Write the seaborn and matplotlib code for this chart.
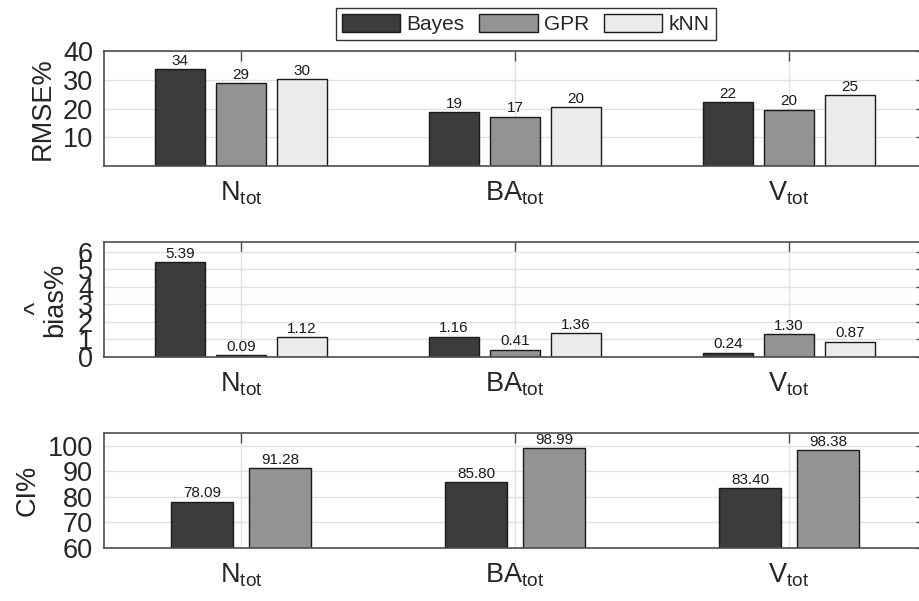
import matplotlib
matplotlib.use("Agg")
import matplotlib.pyplot as plt
import numpy as np
import pandas as pd
import seaborn as sns

sns.set_theme(style="white")
plt.rcParams["font.family"] = ["Liberation Sans", "DejaVu Sans"]
plt.rcParams["mathtext.default"] = "regular"

targets = ["N$_{tot}$", "BA$_{tot}$", "V$_{tot}$"]
methods = ["Bayes", "GPR", "kNN"]
colors = ["#3c3c3c", "#939393", "#ebebeb"]

rmse_bayes = [33.6, 18.8, 22.1]
rmse_gpr = [28.8, 17.1, 19.6]
rmse_knn = [30.3, 20.4, 24.6]

bias_bayes = [5.39, 1.16, 0.24]
bias_gpr = [0.09, 0.41, 1.30]
bias_knn = [1.12, 1.36, 0.87]

ci_bayes = [78.09, 85.80, 83.40]
ci_gpr = [91.28, 98.99, 98.38]


def long_df(series):
    rows = []
    for m, vals in series.items():
        for t, v in zip(targets, vals):
            rows.append({"target": t, "method": m, "value": v})
    return pd.DataFrame(rows)


rmse = long_df({"Bayes": rmse_bayes, "GPR": rmse_gpr, "kNN": rmse_knn})
bias = long_df({"Bayes": bias_bayes, "GPR": bias_gpr, "kNN": bias_knn})
ci = long_df({"Bayes": ci_bayes, "GPR": ci_gpr})

fig = plt.figure(figsize=(9.19, 6.01), dpi=100)
left, width, height = 0.1132, 0.8945, 0.1913
ax1 = fig.add_axes([left, 0.7238, width, height])
ax2 = fig.add_axes([left, 0.406, width, height])
ax3 = fig.add_axes([left, 0.0882, width, height])

spine = "#4d4d4d"
big = 19.5

panels = [
    (ax1, rmse, methods, colors, 0.667, 0.19, (0, 40), [10, 20, 30, 40], "RMSE%", "%.0f"),
    (ax2, bias, methods, colors, 0.667, 0.19, (0, 6.54), [0, 1, 2, 3, 4, 5, 6], "bias%", "%.2f"),
    (ax3, ci, methods[:2], colors[:2], 0.57, 0.21, (60, 105), [60, 70, 80, 90, 100], "CI%", "%.2f"),
]

for ax, df, hue_order, pal, w, gap, ylim, yticks, ylabel, fmt in panels:
    sns.barplot(data=df, x="target", y="value", hue="method", hue_order=hue_order,
                palette=pal, width=w, gap=gap, edgecolor="#1a1a1a", linewidth=1.0,
                ax=ax, legend=(ax is ax1))
    for c in ax.containers:
        ax.bar_label(c, fmt=fmt, fontsize=11, padding=1, color="#1a1a1a")
    ax.set_xlim(-0.5, 2.5)
    ax.set_ylim(*ylim)
    ax.set_yticks(yticks)
    ax.set_axisbelow(True)
    ax.grid(True, color="#e2e2e2", linewidth=1.0)
    ax.set_xlabel("")
    ax.set_ylabel(ylabel, fontsize=big, color="#262626", labelpad=5)
    ax.tick_params(axis="both", direction="in", top=True, right=True, length=7,
                   width=1.0, color=spine, labelsize=big, labelcolor="#262626")
    ax.tick_params(axis="x", pad=10)
    ax.tick_params(axis="y", pad=8)
    for s in ax.spines.values():
        s.set_color(spine)
        s.set_linewidth(1.2)

# middle panel: hat above the bias label
ax2.set_ylabel("   ^\nbias%", fontsize=big, color="#262626", linespacing=0.6,
               labelpad=7, multialignment="left")

handles, labels = ax1.get_legend_handles_labels()
ax1.get_legend().remove()
leg = fig.legend(handles, labels, loc="center", bbox_to_anchor=(0.572, 0.96), ncol=3,
                 fontsize=15, frameon=True, fancybox=False, framealpha=1,
                 edgecolor="#333333", handlelength=2.8, handleheight=0.95,
                 handletextpad=0.3, columnspacing=0.7, borderpad=0.3)
leg.get_frame().set_linewidth(1.0)

fig.savefig("out.png", dpi=100)
